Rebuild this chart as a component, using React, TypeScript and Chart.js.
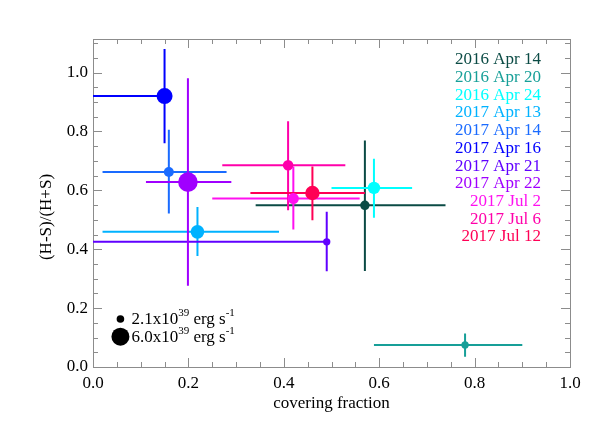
import React, { useEffect, useRef } from "react";
import { Chart, registerables } from "chart.js";

Chart.register(...registerables);

const labels = [
  "2016 Apr 14", "2016 Apr 20", "2016 Apr 24", "2017 Apr 13", "2017 Apr 14", "2017 Apr 16",
  "2017 Apr 21", "2017 Apr 22", "2017 Jul 2", "2017 Jul 6", "2017 Jul 12",
];
const colors = [
  "#0b4b45", "#179f98", "#00ffff", "#00b2ff", "#1a6bff", "#0000ff",
  "#6000ff", "#a000ff", "#ff10f0", "#ff00aa", "#ff0055",
];
const xVal = [0.570, 0.780, 0.589, 0.219, 0.159, 0.150, 0.490, 0.199, 0.420, 0.409, 0.460];
const yVal = [0.549, 0.075, 0.608, 0.459, 0.662, 0.920, 0.425, 0.628, 0.572, 0.685, 0.591];
const xLo = [0.341, 0.589, 0.500, 0.020, 0.020, 0.000, 0.000, 0.111, 0.250, 0.271, 0.330];
const xHi = [0.739, 0.900, 0.669, 0.390, 0.280, 0.150, 0.490, 0.290, 0.559, 0.529, 0.570];
const yLo = [0.326, 0.035, 0.507, 0.377, 0.521, 0.760, 0.325, 0.276, 0.467, 0.532, 0.498];
const yHi = [0.769, 0.114, 0.707, 0.543, 0.806, 1.080, 0.527, 0.981, 0.681, 0.835, 0.681];
// luminosity, 1e39 erg/s
const lum = [2.8, 2.0, 3.9, 4.35, 3.0, 5.25, 2.0, 6.6, 3.4, 3.2, 4.65];
const legendLum = [2.1, 6.0];

const xTicks = [0, 0.2, 0.4, 0.6, 0.8, 1.0];
const yTicks = [0, 0.2, 0.4, 0.6, 0.8, 1.0];

const FONT = "'Liberation Serif', 'Times New Roman', serif";
const lumToRadius = (L: number) => 3.8 + (L - 2.1) * (5.2 / 3.9);

const decoPlugin = {
  id: "deco",
  beforeDatasetsDraw(chart: any) {
    const { ctx, chartArea: a, scales } = chart;
    const xs = scales.x, ys = scales.y;
    ctx.save();
    // frame
    ctx.strokeStyle = "#8c8c8c";
    ctx.lineWidth = 1;
    ctx.strokeRect(Math.round(a.left) + 0.5, Math.round(a.top) + 0.5, Math.round(a.right - a.left), Math.round(a.bottom - a.top));
    // ticks
    ctx.beginPath();
    for (let i = 0; i <= 20; i++) {
      const v = i * 0.05;
      const major = i % 4 === 0;
      const len = major ? 9 : 5;
      const px = Math.round(xs.getPixelForValue(v)) + 0.5;
      ctx.moveTo(px, a.bottom); ctx.lineTo(px, a.bottom - len);
      ctx.moveTo(px, a.top); ctx.lineTo(px, a.top + len);
    }
    for (let i = 0; i <= 22; i++) {
      const v = i * 0.05;
      if (v > ys.max) break;
      const major = i % 4 === 0;
      const len = major ? 9 : 5;
      const py = Math.round(ys.getPixelForValue(v)) + 0.5;
      ctx.moveTo(a.left, py); ctx.lineTo(a.left + len, py);
      ctx.moveTo(a.right, py); ctx.lineTo(a.right - len, py);
    }
    ctx.stroke();
    // error bars
    ctx.beginPath();
    ctx.rect(a.left, a.top, a.right - a.left, a.bottom - a.top);
    ctx.clip();
    ctx.lineWidth = 2;
    for (let i = 0; i < labels.length; i++) {
      ctx.strokeStyle = colors[i];
      const px = xs.getPixelForValue(xVal[i]);
      const py = ys.getPixelForValue(yVal[i]);
      ctx.beginPath();
      ctx.moveTo(xs.getPixelForValue(xLo[i]), py);
      ctx.lineTo(xs.getPixelForValue(xHi[i]), py);
      ctx.moveTo(px, ys.getPixelForValue(yLo[i]));
      ctx.lineTo(px, ys.getPixelForValue(yHi[i]));
      ctx.stroke();
    }
    ctx.restore();
  },
  afterDraw(chart: any) {
    const { ctx, scales, chartArea: a } = chart;
    const xs = scales.x, ys = scales.y;
    ctx.save();
    // y axis title
    ctx.save();
    ctx.font = `17px ${FONT}`;
    ctx.fillStyle = "#000";
    ctx.textAlign = "center";
    ctx.textBaseline = "middle";
    ctx.translate(47, (a.top + a.bottom) / 2 + 14);
    ctx.rotate(-Math.PI / 2);
    ctx.fillText("(H-S)/(H+S)", 0, 0);
    ctx.restore();
    // date legend
    ctx.font = `17px ${FONT}`;
    ctx.textAlign = "right";
    ctx.textBaseline = "middle";
    const lx = xs.getPixelForValue(0.939);
    const ly = ys.getPixelForValue(1.043);
    labels.forEach((t, i) => {
      ctx.fillStyle = colors[i];
      ctx.fillText(t, lx, ly + i * 17.7);
    });
    // size legend
    const pos = [0.163, 0.103];
    legendLum.forEach((L, i) => {
      const cx = xs.getPixelForValue(0.0575);
      const cy = ys.getPixelForValue(pos[i]);
      ctx.fillStyle = "#000";
      ctx.beginPath();
      ctx.arc(cx, cy, lumToRadius(L), 0, Math.PI * 2);
      ctx.fill();
      let tx = xs.getPixelForValue(0.0806);
      ctx.textAlign = "left";
      ctx.textBaseline = "middle";
      const parts: [string, boolean][] = [[`${L.toFixed(1)}x10`, false], ["39", true], [" erg s", false], ["-1", true]];
      parts.forEach(([s, sup]) => {
        ctx.font = sup ? `11px ${FONT}` : `17px ${FONT}`;
        ctx.fillText(s, tx, sup ? cy - 6 : cy + 1);
        tx += ctx.measureText(s).width;
      });
    });
    ctx.restore();
  },
};

export default function App() {
  const ref = useRef<HTMLCanvasElement | null>(null);
  useEffect(() => {
    if (!ref.current) return;
    const datasets = labels.map((name, i) => ({
      label: name,
      data: [{ x: xVal[i], y: yVal[i] }],
      backgroundColor: colors[i],
      borderColor: colors[i],
      pointRadius: lumToRadius(lum[i]),
      pointBorderWidth: 0,
      pointHoverRadius: lumToRadius(lum[i]),
    }));
    const chart = new Chart(ref.current, {
      type: "scatter",
      data: { datasets },
      options: {
        animation: false,
        responsive: false,
        maintainAspectRatio: false,
        layout: { padding: { left: 0, right: 28, top: 39, bottom: 0 } },
        plugins: { legend: { display: false }, tooltip: { enabled: false } },
        scales: {
          x: {
            type: "linear",
            min: 0,
            max: 1,
            grid: { display: false, drawTicks: false },
            border: { display: false },
            afterFit: (s: any) => { s.height = 60; },
            afterBuildTicks: (s: any) => { s.ticks = xTicks.map((v) => ({ value: v })); },
            ticks: {
              padding: 6,
              color: "#000",
              font: { family: FONT, size: 17 },
              maxRotation: 0,
              callback: (v: any) => Number(v).toFixed(1),
            },
            title: {
              display: true,
              text: "covering fraction",
              color: "#000",
              font: { family: FONT, size: 17 },
              padding: { top: 0, bottom: 13 },
            },
          },
          y: {
            type: "linear",
            min: 0,
            max: 1.114,
            grid: { display: false, drawTicks: false },
            border: { display: false },
            afterFit: (s: any) => { s.width = 93; },
            afterBuildTicks: (s: any) => { s.ticks = yTicks.map((v) => ({ value: v })); },
            ticks: {
              padding: 5,
              color: "#000",
              font: { family: FONT, size: 17 },
              callback: (v: any) => Number(v).toFixed(1),
            },
            title: { display: false, text: "(H-S)/(H+S)" },
          },
        },
      },
      plugins: [decoPlugin],
    });
    return () => chart.destroy();
  }, []);
  return (
    <div style={{ position: "absolute", left: 0, top: 0, width: 598, height: 427, background: "#fff" }}>
      <canvas ref={ref} width={598} height={427} />
    </div>
  );
}
